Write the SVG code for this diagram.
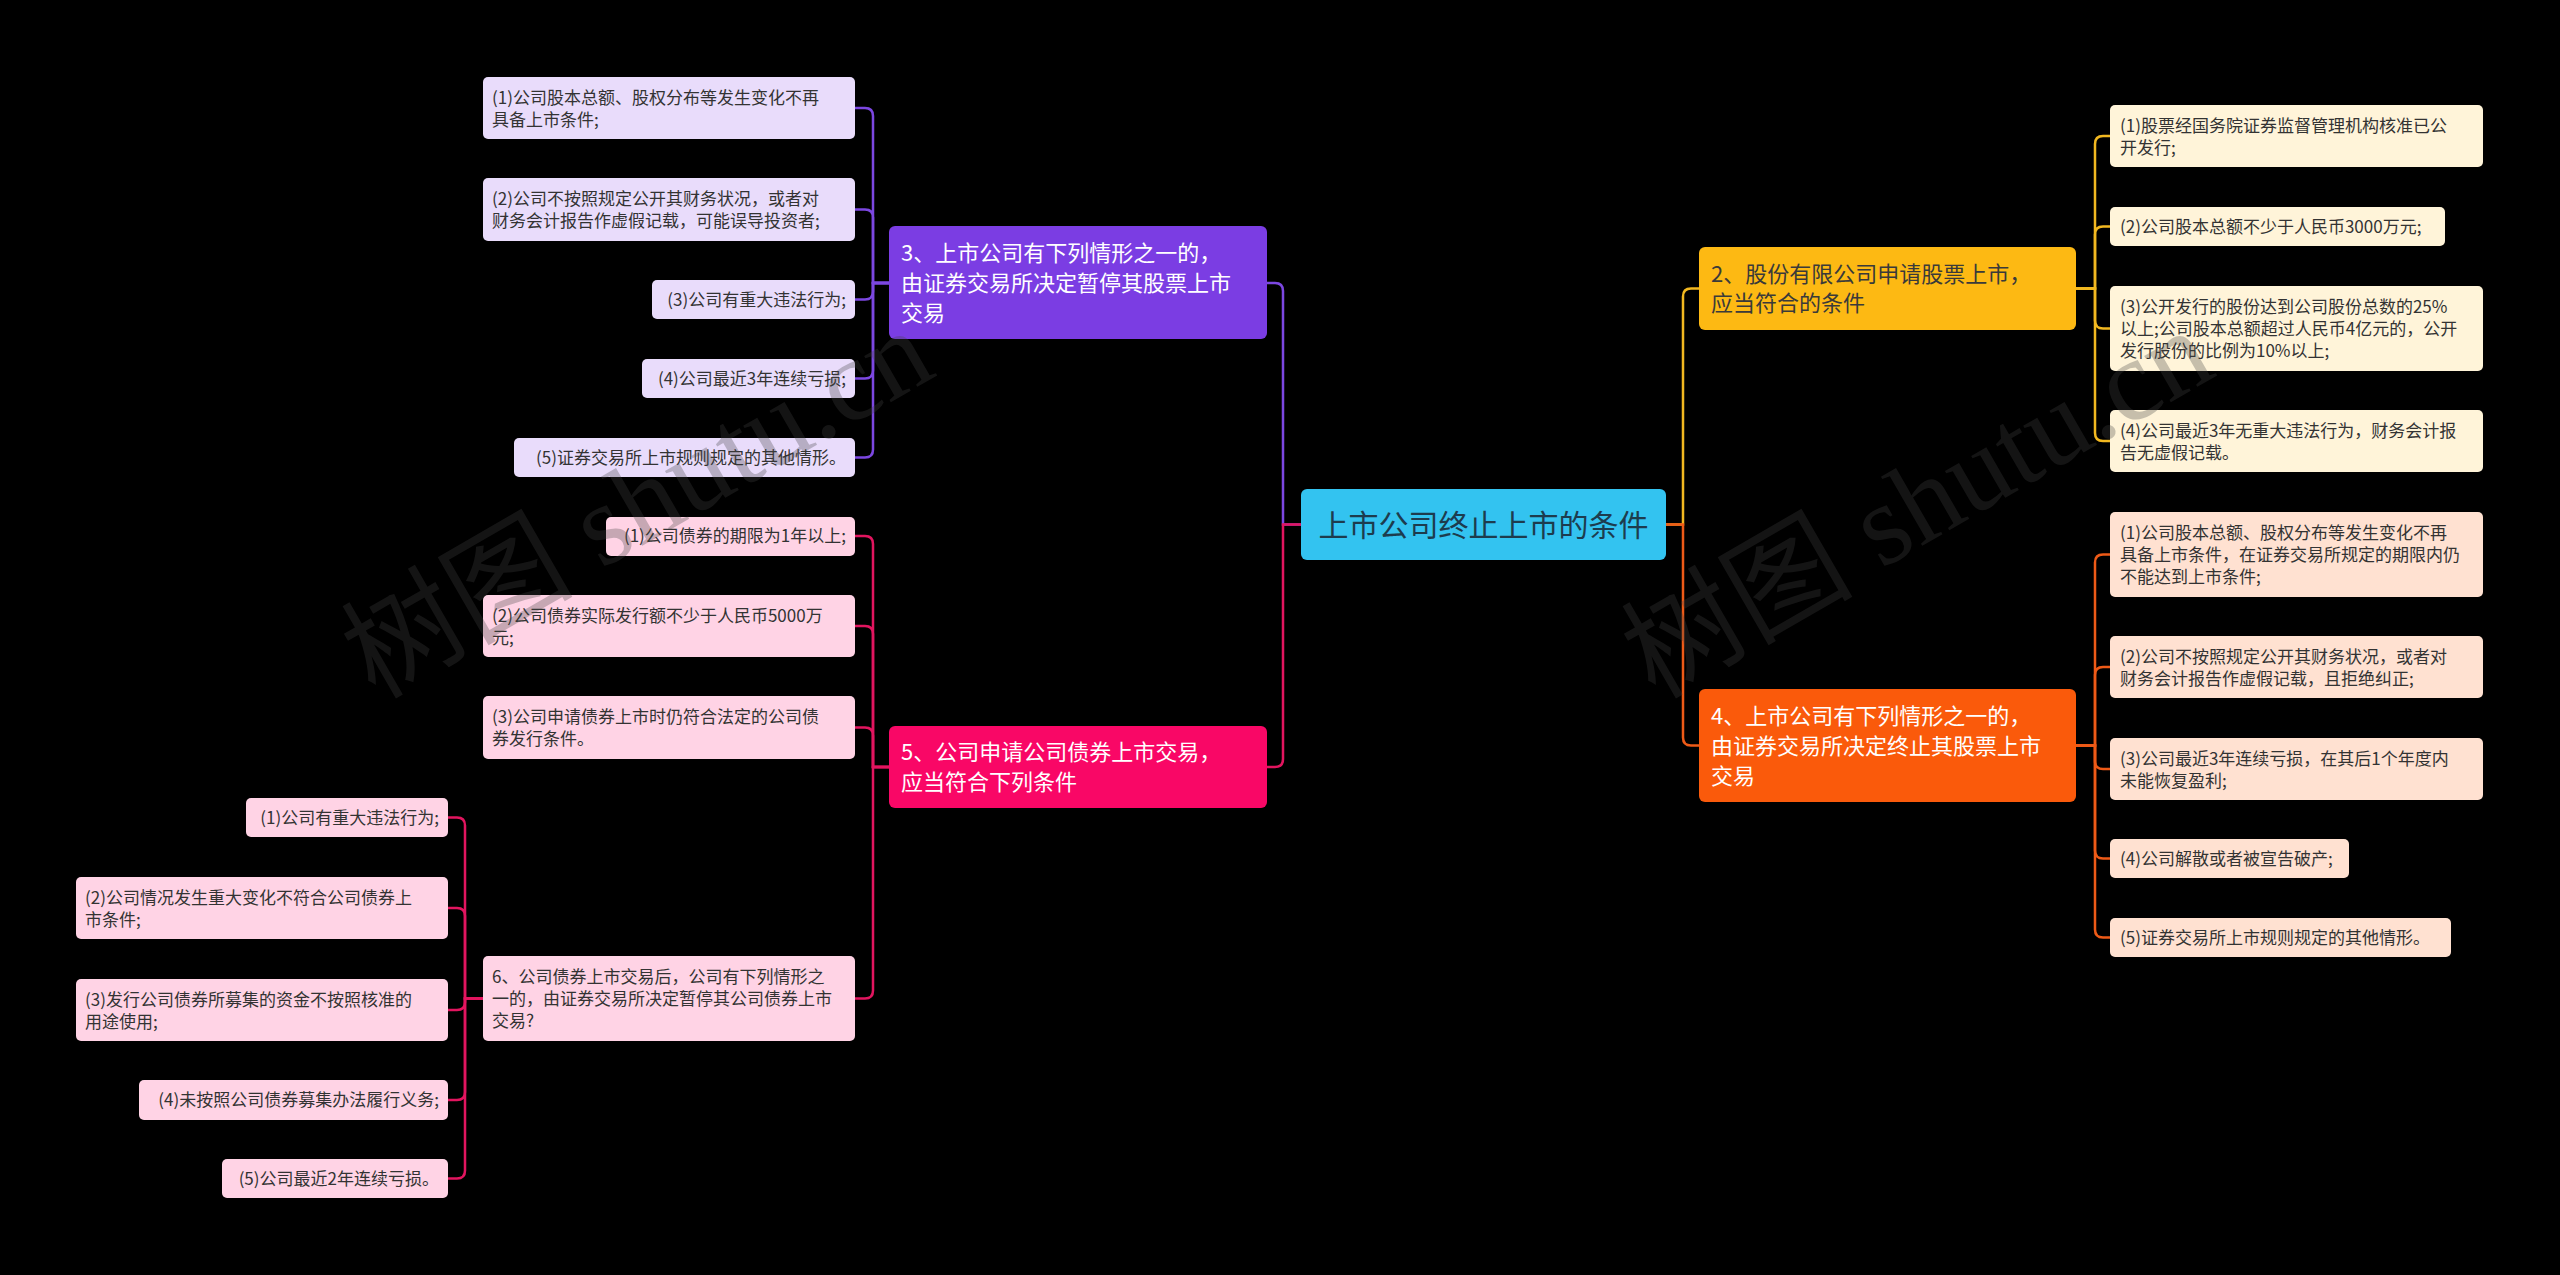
<svg xmlns="http://www.w3.org/2000/svg" width="2560" height="1275" viewBox="0 0 2560 1275">
<style>
text{font-family:"Noto Sans CJK SC","Microsoft YaHei","Noto Sans",sans-serif}
.ct{font-size:17px;fill:#333333}
.bt{font-size:22px;fill:#ffffff}
.bt2{font-size:22px;fill:#3a3a3a}
.root{font-size:30px;fill:#1d3c4e}
.c2{fill:#FFF4D9}.c4{fill:#FFE1D1}.c3{fill:#E9DCFB}.c5{fill:#FFD3E5}
.ln{fill:none;stroke-width:2.5;stroke-linecap:round}
.ly{stroke:#F2B820}.lo{stroke:#EE5A17}.lp{stroke:#7C47E1}.lr{stroke:#E2155F}
.wm{font-family:"Liberation Serif","Noto Sans CJK SC",serif;font-size:116px;fill:#444444;opacity:0.3}
</style>
<rect x="0" y="0" width="2560" height="1275" fill="#000000"/>
<g id="connectors">
<path class="ln lp" d="M1301,524.5 H1283 V291 Q1283,283 1275,283 H1267"/>
<path class="ln lr" d="M1301,524.5 H1283 V759 Q1283,767 1275,767 H1267"/>
<path class="ln ly" d="M1666,524.5 H1683 V296.5 Q1683,288.5 1691,288.5 H1699"/>
<path class="ln lo" d="M1666,524.5 H1683 V737.5 Q1683,745.5 1691,745.5 H1699"/>
<path class="ln ly" d="M2076,288.5 H2095 V144 Q2095,136 2103,136 H2110"/>
<path class="ln ly" d="M2076,288.5 H2095 V234.5 Q2095,226.5 2103,226.5 H2110"/>
<path class="ln ly" d="M2076,288.5 H2095 V320.5 Q2095,328.5 2103,328.5 H2110"/>
<path class="ln ly" d="M2076,288.5 H2095 V433 Q2095,441 2103,441 H2110"/>
<path class="ln lo" d="M2076,745.5 H2095 V562.5 Q2095,554.5 2103,554.5 H2110"/>
<path class="ln lo" d="M2076,745.5 H2095 V675 Q2095,667 2103,667 H2110"/>
<path class="ln lo" d="M2076,745.5 H2095 V761 Q2095,769 2103,769 H2110"/>
<path class="ln lo" d="M2076,745.5 H2095 V850.5 Q2095,858.5 2103,858.5 H2110"/>
<path class="ln lo" d="M2076,745.5 H2095 V929.5 Q2095,937.5 2103,937.5 H2110"/>
<path class="ln lp" d="M889,283 H873 V116 Q873,108 865,108 H855"/>
<path class="ln lp" d="M889,283 H873 V217.5 Q873,209.5 865,209.5 H855"/>
<path class="ln lp" d="M889,283 H873 V291.5 Q873,299.5 865,299.5 H855"/>
<path class="ln lp" d="M889,283 H873 V370.5 Q873,378.5 865,378.5 H855"/>
<path class="ln lp" d="M889,283 H873 V449.5 Q873,457.5 865,457.5 H855"/>
<path class="ln lr" d="M889,767 H873 V544 Q873,536 865,536 H855"/>
<path class="ln lr" d="M889,767 H873 V634 Q873,626 865,626 H855"/>
<path class="ln lr" d="M889,767 H873 V735.5 Q873,727.5 865,727.5 H855"/>
<path class="ln lr" d="M889,767 H873 V990.5 Q873,998.5 865,998.5 H855"/>
<path class="ln lr" d="M483,998.5 H465 V825.5 Q465,817.5 457,817.5 H448"/>
<path class="ln lr" d="M483,998.5 H465 V916 Q465,908 457,908 H448"/>
<path class="ln lr" d="M483,998.5 H465 V1002 Q465,1010 457,1010 H448"/>
<path class="ln lr" d="M483,998.5 H465 V1092 Q465,1100 457,1100 H448"/>
<path class="ln lr" d="M483,998.5 H465 V1170.5 Q465,1178.5 457,1178.5 H448"/>
</g>
<g id="root">
<rect x="1301" y="489" width="365" height="71" rx="6" fill="#33C3F0"/>
<text class="root" x="1483.5" y="535.5" text-anchor="middle">上市公司终止上市的条件</text>
</g>
<g id="n2">
<rect x="1699" y="247" width="377" height="83" rx="6" fill="#FDB913"/>
<text class="bt2"><tspan x="1711" y="282">2、股份有限公司申请股票上市，</tspan><tspan x="1711" y="311">应当符合的条件</tspan></text>
</g>
<g id="n2-1"><rect class="c2" x="2110" y="105" width="373" height="62" rx="5"/>
<text class="ct"><tspan x="2120" y="132">(1)股票经国务院证券监督管理机构核准已公</tspan><tspan x="2120" y="154">开发行;</tspan></text></g>
<g id="n2-2"><rect class="c2" x="2110" y="207" width="335" height="39" rx="5"/>
<text class="ct" x="2120" y="232.5">(2)公司股本总额不少于人民币3000万元;</text></g>
<g id="n2-3"><rect class="c2" x="2110" y="286" width="373" height="85" rx="5"/>
<text class="ct"><tspan x="2120" y="313">(3)公开发行的股份达到公司股份总数的25%</tspan><tspan x="2120" y="335">以上;公司股本总额超过人民币4亿元的，公开</tspan><tspan x="2120" y="357">发行股份的比例为10%以上;</tspan></text></g>
<g id="n2-4"><rect class="c2" x="2110" y="410" width="373" height="62" rx="5"/>
<text class="ct"><tspan x="2120" y="437">(4)公司最近3年无重大违法行为，财务会计报</tspan><tspan x="2120" y="459">告无虚假记载。</tspan></text></g>
<g id="n4">
<rect x="1699" y="689" width="377" height="113" rx="6" fill="#FA5A0B"/>
<text class="bt"><tspan x="1711" y="724">4、上市公司有下列情形之一的，</tspan><tspan x="1711" y="754">由证券交易所决定终止其股票上市</tspan><tspan x="1711" y="784">交易</tspan></text>
</g>
<g id="n4-1"><rect class="c4" x="2110" y="512" width="373" height="85" rx="5"/>
<text class="ct"><tspan x="2120" y="539">(1)公司股本总额、股权分布等发生变化不再</tspan><tspan x="2120" y="561">具备上市条件，在证券交易所规定的期限内仍</tspan><tspan x="2120" y="583">不能达到上市条件;</tspan></text></g>
<g id="n4-2"><rect class="c4" x="2110" y="636" width="373" height="62" rx="5"/>
<text class="ct"><tspan x="2120" y="663">(2)公司不按照规定公开其财务状况，或者对</tspan><tspan x="2120" y="685">财务会计报告作虚假记载，且拒绝纠正;</tspan></text></g>
<g id="n4-3"><rect class="c4" x="2110" y="738" width="373" height="62" rx="5"/>
<text class="ct"><tspan x="2120" y="765">(3)公司最近3年连续亏损，在其后1个年度内</tspan><tspan x="2120" y="787">未能恢复盈利;</tspan></text></g>
<g id="n4-4"><rect class="c4" x="2110" y="839" width="239" height="39" rx="5"/>
<text class="ct" x="2120" y="864.5">(4)公司解散或者被宣告破产;</text></g>
<g id="n4-5"><rect class="c4" x="2110" y="918" width="341" height="39" rx="5"/>
<text class="ct" x="2120" y="943.5">(5)证券交易所上市规则规定的其他情形。</text></g>
<g id="n3">
<rect x="889" y="226" width="378" height="113" rx="6" fill="#7B3DE3"/>
<text class="bt"><tspan x="901" y="261">3、上市公司有下列情形之一的，</tspan><tspan x="901" y="291">由证券交易所决定暂停其股票上市</tspan><tspan x="901" y="321">交易</tspan></text>
</g>
<g id="n3-1"><rect class="c3" x="483" y="77" width="372" height="62" rx="5"/>
<text class="ct"><tspan x="492" y="104">(1)公司股本总额、股权分布等发生变化不再</tspan><tspan x="492" y="126">具备上市条件;</tspan></text></g>
<g id="n3-2"><rect class="c3" x="483" y="178" width="372" height="63" rx="5"/>
<text class="ct"><tspan x="492" y="205">(2)公司不按照规定公开其财务状况，或者对</tspan><tspan x="492" y="227">财务会计报告作虚假记载，可能误导投资者;</tspan></text></g>
<g id="n3-3"><rect class="c3" x="652" y="280" width="203" height="39" rx="5"/>
<text class="ct" x="846" y="305.5" text-anchor="end">(3)公司有重大违法行为;</text></g>
<g id="n3-4"><rect class="c3" x="642" y="359" width="213" height="39" rx="5"/>
<text class="ct" x="846" y="384.5" text-anchor="end">(4)公司最近3年连续亏损;</text></g>
<g id="n3-5"><rect class="c3" x="514" y="438" width="341" height="39" rx="5"/>
<text class="ct" x="846" y="463.5" text-anchor="end">(5)证券交易所上市规则规定的其他情形。</text></g>
<g id="n5">
<rect x="889" y="726" width="378" height="82" rx="6" fill="#F90766"/>
<text class="bt"><tspan x="901" y="760">5、公司申请公司债券上市交易，</tspan><tspan x="901" y="790">应当符合下列条件</tspan></text>
</g>
<g id="n5-1"><rect class="c5" x="606" y="517" width="249" height="39" rx="5"/>
<text class="ct" x="846" y="542" text-anchor="end">(1)公司债券的期限为1年以上;</text></g>
<g id="n5-2"><rect class="c5" x="483" y="595" width="372" height="62" rx="5"/>
<text class="ct"><tspan x="492" y="622">(2)公司债券实际发行额不少于人民币5000万</tspan><tspan x="492" y="644">元;</tspan></text></g>
<g id="n5-3"><rect class="c5" x="483" y="696" width="372" height="63" rx="5"/>
<text class="ct"><tspan x="492" y="723">(3)公司申请债券上市时仍符合法定的公司债</tspan><tspan x="492" y="745">券发行条件。</tspan></text></g>
<g id="n6"><rect class="c5" x="483" y="956" width="372" height="85" rx="5"/>
<text class="ct"><tspan x="492" y="983">6、公司债券上市交易后，公司有下列情形之</tspan><tspan x="492" y="1005">一的，由证券交易所决定暂停其公司债券上市</tspan><tspan x="492" y="1027">交易?</tspan></text></g>
<g id="n6-1"><rect class="c5" x="246" y="798" width="202" height="39" rx="5"/>
<text class="ct" x="439" y="823.5" text-anchor="end">(1)公司有重大违法行为;</text></g>
<g id="n6-2"><rect class="c5" x="76" y="877" width="372" height="62" rx="5"/>
<text class="ct"><tspan x="85" y="904">(2)公司情况发生重大变化不符合公司债券上</tspan><tspan x="85" y="926">市条件;</tspan></text></g>
<g id="n6-3"><rect class="c5" x="76" y="979" width="372" height="62" rx="5"/>
<text class="ct"><tspan x="85" y="1006">(3)发行公司债券所募集的资金不按照核准的</tspan><tspan x="85" y="1028">用途使用;</tspan></text></g>
<g id="n6-4"><rect class="c5" x="139" y="1080" width="309" height="40" rx="5"/>
<text class="ct" x="439" y="1106" text-anchor="end">(4)未按照公司债券募集办法履行义务;</text></g>
<g id="n6-5"><rect class="c5" x="222" y="1159" width="226" height="39" rx="5"/>
<text class="ct" x="439" y="1184.5" text-anchor="end">(5)公司最近2年连续亏损。</text></g>
<g id="watermark">
<text class="wm" x="375" y="700" transform="rotate(-30 375 700)">树图 shutu.cn</text>
<text class="wm" x="1655" y="700" transform="rotate(-30 1655 700)">树图 shutu.cn</text>
</g>
</svg>
